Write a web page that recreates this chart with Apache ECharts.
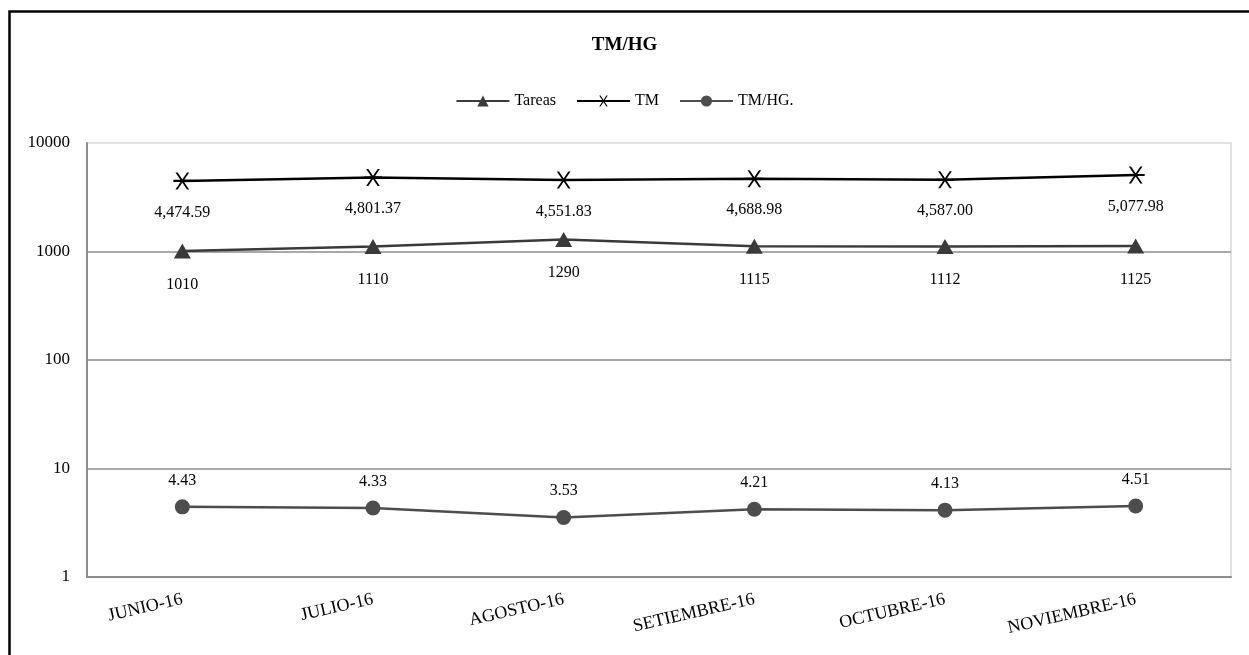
<!DOCTYPE html>
<html>
<head>
<meta charset="utf-8">
<script src="https://cdn.jsdelivr.net/npm/echarts@6/dist/echarts.min.js"></script>
<style>
html,body{margin:0;padding:0;background:#fff;}
#chart{width:1249px;height:655px;}
</style>
</head>
<body>
<div id="chart"></div>
<script>
const categories = ['JUNIO-16','JULIO-16','AGOSTO-16','SETIEMBRE-16','OCTUBRE-16','NOVIEMBRE-16'];
const tareas = [1010, 1110, 1290, 1115, 1112, 1125];
const tm = [4474.59, 4801.37, 4551.83, 4688.98, 4587.00, 5077.98];
const tmhg = [4.43, 4.33, 3.53, 4.21, 4.13, 4.51];

const FONT = '"Liberation Serif", "Times New Roman", serif';
function fmtThousands(v){
  const parts = v.toFixed(2).split('.');
  parts[0] = parts[0].replace(/\B(?=(\d{3})+(?!\d))/g, ',');
  return parts.join('.');
}
const asterisk = 'path://M0,44 L100,44 L100,56 L0,56 Z M12,0 L24,0 L88,100 L76,100 Z M76,0 L88,0 L24,100 L12,100 Z';

const chart = echarts.init(document.getElementById('chart'), null, {renderer:'canvas'});
chart.setOption({
  backgroundColor:'#fff',
  animation:false,
  textStyle:{fontFamily:FONT},
  title:{
    text:'TM/HG', left:'center', top:31,
    textStyle:{fontFamily:FONT, fontSize:19, fontWeight:'bold', color:'#000'}
  },
  legend:{
    top:88, left:'center', itemWidth:53, itemHeight:14, itemGap:20,
    textStyle:{fontFamily:FONT, fontSize:16, color:'#000'},
    data:['Tareas','TM','TM/HG.']
  },
  grid:{left:87, right:18, top:143, bottom:78, show:true, borderColor:'#d9d9d9', borderWidth:1.5},
  xAxis:{
    type:'category', data:categories, boundaryGap:true,
    axisLine:{show:true, lineStyle:{color:'#8c8c8c', width:2}},
    axisTick:{show:false},
    axisLabel:{rotate:13, margin:22, fontFamily:FONT, fontSize:18, color:'#000', interval:0}
  },
  yAxis:{
    type:'log', logBase:10, min:1, max:10000,
    axisLine:{show:true, lineStyle:{color:'#8c8c8c', width:2}},
    axisTick:{show:false},
    axisLabel:{margin:17, fontFamily:FONT, fontSize:17, color:'#000',
      formatter:function(v){return String(Math.round(v));}},
    splitLine:{show:true, showMaxLine:false, lineStyle:{color:'#8c8c8c', width:1.5}}
  },
  series:[
    {
      name:'Tareas', type:'line', data:tareas,
      symbol:'triangle', symbolSize:[17,15],
      lineStyle:{color:'#3a3a3a', width:2.5},
      itemStyle:{color:'#3a3a3a'},
      label:{show:true, position:'bottom', distance:18, fontFamily:FONT, fontSize:16, color:'#000'},
      z:3
    },
    {
      name:'TM', type:'line', data:tm,
      symbol:asterisk, symbolSize:[18,17],
      lineStyle:{color:'#000', width:2.5},
      itemStyle:{color:'#000'},
      label:{show:true, position:'bottom', distance:15, fontFamily:FONT, fontSize:16, color:'#000',
        formatter:function(p){return fmtThousands(p.value);}},
      z:4
    },
    {
      name:'TM/HG.', type:'line', data:tmhg,
      symbol:'circle', symbolSize:15,
      lineStyle:{color:'#4d4d4d', width:2.5},
      itemStyle:{color:'#4d4d4d'},
      label:{show:true, position:'top', distance:11, fontFamily:FONT, fontSize:16, color:'#000',
        formatter:function(p){return p.value.toFixed(2);}},
      z:3
    }
  ],
  graphic:[{
    type:'rect', left:7, top:9, silent:true,
    shape:{x:0, y:0, width:1260, height:700},
    style:{fill:'none', stroke:'#000', lineWidth:2.5}
  }]
});
</script>
</body>
</html>
